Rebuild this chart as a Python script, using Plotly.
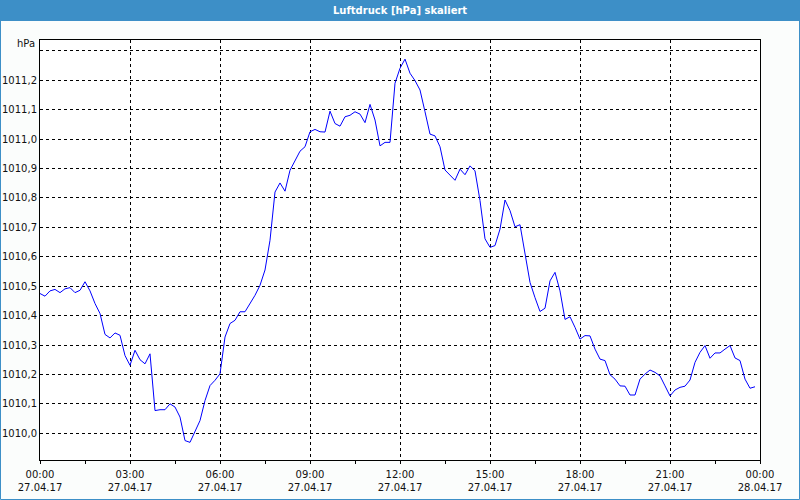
import plotly.graph_objects as go
import pandas as pd

# ---- data (10-minute readings, 27.04.17 00:00 .. 23:50) ----
start = "2017-04-27 00:00"
pressure = [
    1010.475, 1010.466, 1010.484, 1010.489, 1010.478, 1010.491, 1010.495, 1010.478, 1010.486, 1010.515,
    1010.484, 1010.441, 1010.407, 1010.336, 1010.324, 1010.341, 1010.333, 1010.264, 1010.231, 1010.282,
    1010.250, 1010.236, 1010.270, 1010.077, 1010.080, 1010.080, 1010.100, 1010.089, 1010.055, 1009.975,
    1009.969, 1010.009, 1010.043, 1010.111, 1010.162, 1010.180, 1010.202, 1010.327, 1010.373, 1010.384,
    1010.413, 1010.413, 1010.441, 1010.469, 1010.503, 1010.555, 1010.656, 1010.820, 1010.851, 1010.823,
    1010.894, 1010.928, 1010.959, 1010.974, 1011.025, 1011.033, 1011.025, 1011.024, 1011.095, 1011.053,
    1011.044, 1011.076, 1011.081, 1011.093, 1011.085, 1011.056, 1011.118, 1011.065, 1010.977, 1010.989,
    1010.989, 1011.190, 1011.241, 1011.272, 1011.224, 1011.199, 1011.167, 1011.093, 1011.017, 1011.011,
    1010.974, 1010.895, 1010.878, 1010.860, 1010.898, 1010.879, 1010.909, 1010.892, 1010.791, 1010.661,
    1010.632, 1010.638, 1010.694, 1010.793, 1010.757, 1010.702, 1010.709, 1010.609, 1010.513, 1010.461,
    1010.414, 1010.425, 1010.518, 1010.547, 1010.484, 1010.387, 1010.396, 1010.360, 1010.320, 1010.332,
    1010.331, 1010.286, 1010.252, 1010.247, 1010.199, 1010.184, 1010.161, 1010.160, 1010.130, 1010.130,
    1010.184, 1010.201, 1010.215, 1010.207, 1010.195, 1010.161, 1010.127, 1010.147, 1010.156, 1010.160,
    1010.181, 1010.241, 1010.275, 1010.298, 1010.255, 1010.273, 1010.273, 1010.286, 1010.298, 1010.256,
    1010.247, 1010.184, 1010.153, 1010.158,
]
times = pd.date_range(start, periods=len(pressure), freq="10min")

y_tickvals = [1010.0, 1010.1, 1010.2, 1010.3, 1010.4, 1010.5, 1010.6, 1010.7,
              1010.8, 1010.9, 1011.0, 1011.1, 1011.2, 1011.3]
y_ticktext = ["1010,0", "1010,1", "1010,2", "1010,3", "1010,4", "1010,5", "1010,6", "1010,7",
              "1010,8", "1010,9", "1011,0", "1011,1", "1011,2", ""]
unit_label = "hPa"
x_tickvals = pd.date_range(start, periods=9, freq="3h")
x_ticktext = ["00:00<br>27.04.17", "03:00<br>27.04.17", "06:00<br>27.04.17", "09:00<br>27.04.17",
              "12:00<br>27.04.17", "15:00<br>27.04.17", "18:00<br>27.04.17", "21:00<br>27.04.17",
              "00:00<br>28.04.17"]
title = "Luftdruck [hPa] skaliert"

BLUE = "#3d8fc7"
FONT = "DejaVu Sans"

fig = go.Figure()
fig.add_trace(go.Scatter(x=times, y=pressure, mode="lines",
                         line=dict(color="#0000ff", width=1), hoverinfo="skip"))

W, H = 800, 500
L, R, T, B = 40, 40, 40, 40
pw, ph = W - L - R, H - T - B


def px(x):
    return (x - L) / pw


def py(y):
    return (H - B - y) / ph


fig.update_layout(
    width=W, height=H,
    margin=dict(l=L, r=R, t=T, b=B),
    paper_bgcolor="#fbfdfc",
    plot_bgcolor="#ffffff",
    showlegend=False,
    font=dict(family=FONT, size=10, color="#111111"),
    shapes=[
        dict(type="rect", xref="paper", yref="paper", x0=px(0), x1=px(800), y0=py(0), y1=py(21),
             fillcolor=BLUE, line=dict(width=0), layer="below"),
        dict(type="rect", xref="paper", yref="paper", x0=px(0.5), x1=px(799.5), y0=py(0.5), y1=py(499.5),
             fillcolor="rgba(0,0,0,0)", line=dict(color=BLUE, width=1)),
    ],
    annotations=[
        dict(text="<b>" + title + "</b>", xref="paper", yref="paper", x=px(400), y=py(10.5),
             xanchor="center", yanchor="middle", showarrow=False,
             font=dict(family=FONT, size=10, color="#ffffff")),
        dict(text=unit_label, xref="paper", yref="paper", x=px(37), y=py(44),
             xanchor="right", yanchor="middle", showarrow=False,
             font=dict(family=FONT, size=10, color="#111111")),
    ],
)

fig.update_xaxes(
    type="date",
    range=[x_tickvals[0], x_tickvals[-1]],
    tickvals=x_tickvals, ticktext=x_ticktext,
    showgrid=True, gridcolor="#000000", gridwidth=1, griddash="3px,3px",
    showline=True, linecolor="#000000", linewidth=1, mirror=True,
    ticks="outside", ticklen=3, tickcolor="#000000", ticklabelstandoff=2,
    minor=dict(dtick=5400000, ticks="outside", ticklen=3, tickcolor="#000000", showgrid=False),
    zeroline=False, fixedrange=True, automargin=False,
    tickfont=dict(family=FONT, size=10, color="#111111"),
)
fig.update_yaxes(
    range=[1009.909, 1011.337],
    tickvals=y_tickvals, ticktext=y_ticktext,
    showgrid=True, gridcolor="#000000", gridwidth=1, griddash="3px,3px",
    showline=True, linecolor="#000000", linewidth=1, mirror=True,
    ticks="", zeroline=False, fixedrange=True, automargin=False,
    tickfont=dict(family=FONT, size=10, color="#111111"),
)

fig.write_html("out.html")
